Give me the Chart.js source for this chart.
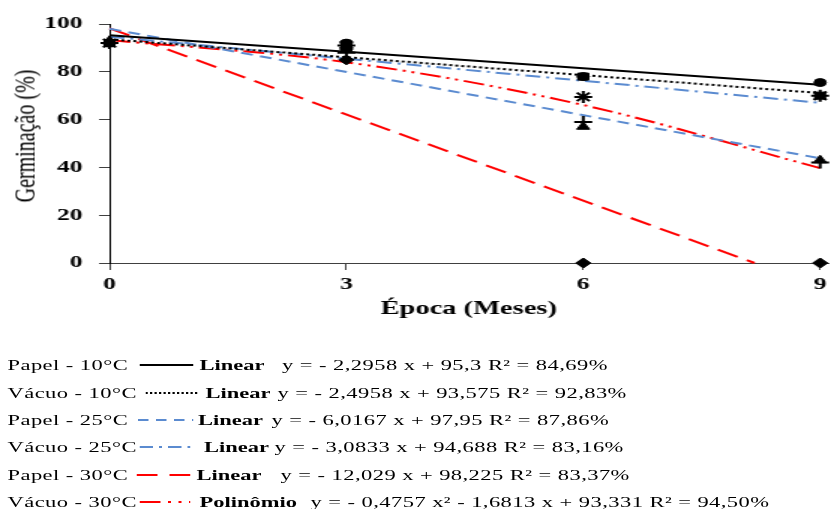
<!DOCTYPE html>
<html lang="pt">
<head>
<meta charset="utf-8">
<title>Germinação x Época</title>
<script src="https://cdn.jsdelivr.net/npm/chart.js@4.4.1/dist/chart.umd.min.js"></script>
<style>
  html, body { margin: 0; padding: 0; background: #fff; overflow: hidden; }
  /* the original figure is stretched horizontally, so the whole stage is too */
  #stage { position: relative; width: 555px; height: 509px; transform: scaleX(1.5); transform-origin: 0 0;
           font-family: "Liberation Serif", "Times New Roman", serif; color: #000; }
  #chart { position: absolute; left: 0; top: 0; }
  #ytitle { position: absolute; left: 16px; top: 136px; font-size: 20px; line-height: 22px; white-space: nowrap;
            transform: translate(-50%, -50%) rotate(-90deg); }
  .row { position: absolute; left: 0; width: 555px; height: 20px; font-size: 15px; line-height: 20px; white-space: nowrap; }
  .row span, .row svg { position: absolute; top: 0; }
  .fit { font-weight: bold; }
  .eq { letter-spacing: 0.3px; }
  .name { letter-spacing: 0.3px; }
</style>
</head>
<body>
<div id="stage">
  <canvas id="chart" width="555" height="330"></canvas>
  <div id="ytitle">Germinação (%)</div>
  <div id="legend"></div>
</div>
<script>
// Época (meses) and observed germination (%)
const months = [0, 3, 6, 9];
const papel10 = [92, 92, 78, 75.5];
const vacuo10 = [92, 90, 78, 70];
const papel25 = [93, 91, 57, 43];
const vacuo25 = [92, 91, 69.5, 70];
const papel30 = [92, 85, 0, 0];
const vacuo30 = [92, 88, 59, 42];

// trend lines
const trendX = [0, 9];
const trendPapel10 = [95.3, 74.6];
const trendVacuo10 = [93.6, 71.1];
const trendPapel25 = [98, 43.8];
const trendVacuo25 = [94.7, 67];
const trendPapel30X = [0, 8.17];
const trendPapel30 = [98.2, 0];
const trendVacuo30 = [93.3, 84, 66.1, 39.7];

const xTicks = [0, 3, 6, 9];
const yTicks = [0, 20, 40, 60, 80, 100];

// legend texts
const seriesNames = ["Papel - 10°C", "Vácuo - 10°C", "Papel - 25°C", "Vácuo - 25°C", "Papel - 30°C", "Vácuo - 30°C"];
const fitNames = ["Linear", "Linear", "Linear", "Linear", "Linear", "Polinômio"];
const equations = [
  "y = - 2,2958 x + 95,3 R² = 84,69%",
  "y = - 2,4958 x + 93,575 R² = 92,83%",
  "y = - 6,0167 x + 97,95 R² = 87,86%",
  "y = - 3,0833 x + 94,688 R² = 83,16%",
  "y = - 12,029 x + 98,225 R² = 83,37%",
  "y = - 0,4757 x² - 1,6813 x + 93,331 R² = 94,50%"
];

const BLUE = "#5b8bd0";
const RED = "#ff0000";

// line look for each series: colour, dash on the chart, dash in the legend
const lineColors = ["#000", "#000", BLUE, BLUE, RED, RED];
const chartDashes = [[], [2, 2], [8, 5], [10, 4, 2, 4], [15, 7], [14, 4, 2, 4, 2, 4]];
const legendDashes = ["", "1.5,1.5", "7,5", "9,4,2,4", "14,8", "14,5,2,5,2,5"];

// legend layout (unstretched px)
const rowCenters = [365, 392.5, 420, 447, 475, 502];
const sampleX = [[93, 129], [97, 132], [92, 129], [93, 127], [91, 127], [93, 127]];
const fitX = [133, 137, 132, 136, 131, 133];
const eqX = [188, 185, 181, 183, 187, 207];

function toPoints(xs, ys) {
    return xs.map((x, i) => ({ x: x, y: ys[i] }));
}

function markers(values, style, radius, layer) {
    const thin = style === "star" || style === "cross";
    return {
        data: toPoints(months, values),
        pointStyle: style,
        pointRadius: radius,
        backgroundColor: "#000",
        borderColor: "#000",
        borderWidth: thin ? 2 : 1,
        showLine: false,
        clip: false,
        order: layer
    };
}

function trend(xs, ys, idx, curved) {
    return {
        data: toPoints(xs, ys),
        showLine: true,
        borderColor: lineColors[idx],
        borderWidth: 2,
        borderDash: chartDashes[idx],
        pointRadius: 0,
        fill: false,
        cubicInterpolationMode: curved ? "monotone" : "default",
        clip: false,
        order: 1
    };
}

const datasets = [
    markers(papel10, "circle", 4, 0.5),
    markers(vacuo10, "rect", 5, 0.4),
    markers(papel25, "triangle", 5, 0.3),
    markers(vacuo25, "star", 6, 0),
    markers(papel30, "rectRot", 5, 0.2),
    markers(vacuo30, "cross", 6, 0.1),
    trend(trendX, trendPapel10, 0),
    trend(trendX, trendVacuo10, 1),
    trend(trendX, trendPapel25, 2),
    trend(trendX, trendVacuo25, 3),
    trend(trendPapel30X, trendPapel30, 4),
    trend(months, trendVacuo30, 5, true)
];

const serif = "'Liberation Serif', 'Times New Roman', serif";

new Chart(document.getElementById("chart"), {
    type: "scatter",
    data: { datasets: datasets },
    options: {
        responsive: false,
        animation: false,
        devicePixelRatio: 1,
        layout: { autoPadding: false, padding: { top: 24, right: 0, bottom: 0, left: 0 } },
        plugins: { legend: { display: false }, tooltip: { enabled: false } },
        scales: {
            x: {
                type: "linear",
                min: 0,
                max: 9.1,
                afterBuildTicks: axis => { axis.ticks = xTicks.map(v => ({ value: v })); },
                afterFit: axis => { axis.height = 67; },
                ticks: { color: "#000", padding: 4, font: { family: serif, size: 17, weight: "bold" } },
                grid: { drawOnChartArea: false, tickLength: 7, color: "#404040" },
                border: { color: "#404040" },
                title: {
                    display: true,
                    text: "Época (Meses)",
                    color: "#000",
                    font: { family: serif, size: 19, weight: "bold" },
                    padding: { top: 0, bottom: 10 }
                }
            },
            y: {
                min: 0,
                max: 100,
                afterBuildTicks: axis => { axis.ticks = yTicks.map(v => ({ value: v })); },
                afterFit: axis => { axis.width = 73; },
                ticks: { color: "#000", padding: 11, font: { family: serif, size: 17, weight: "bold" } },
                grid: { drawOnChartArea: false, tickLength: 7, color: "#404040" },
                border: { color: "#000" }
            }
        }
    }
});

// Legend below the chart
const legendBox = document.getElementById("legend");
seriesNames.forEach((name, i) => {
    const row = document.createElement("div");
    row.className = "row";
    row.style.top = (rowCenters[i] - 10) + "px";
    const w = sampleX[i][1] - sampleX[i][0];
    row.innerHTML = `
        <span class="name" style="left:5px">${name}</span>
        <svg style="left:${sampleX[i][0]}px" width="${w}" height="20">
            <line x1="0" y1="10" x2="${w}" y2="10" stroke="${lineColors[i]}" stroke-width="2" stroke-dasharray="${legendDashes[i]}"/>
        </svg>
        <span class="fit" style="left:${fitX[i]}px">${fitNames[i]}</span>
        <span class="eq" style="left:${eqX[i]}px">${equations[i]}</span>
    `;
    legendBox.appendChild(row);
});
</script>
</body>
</html>
